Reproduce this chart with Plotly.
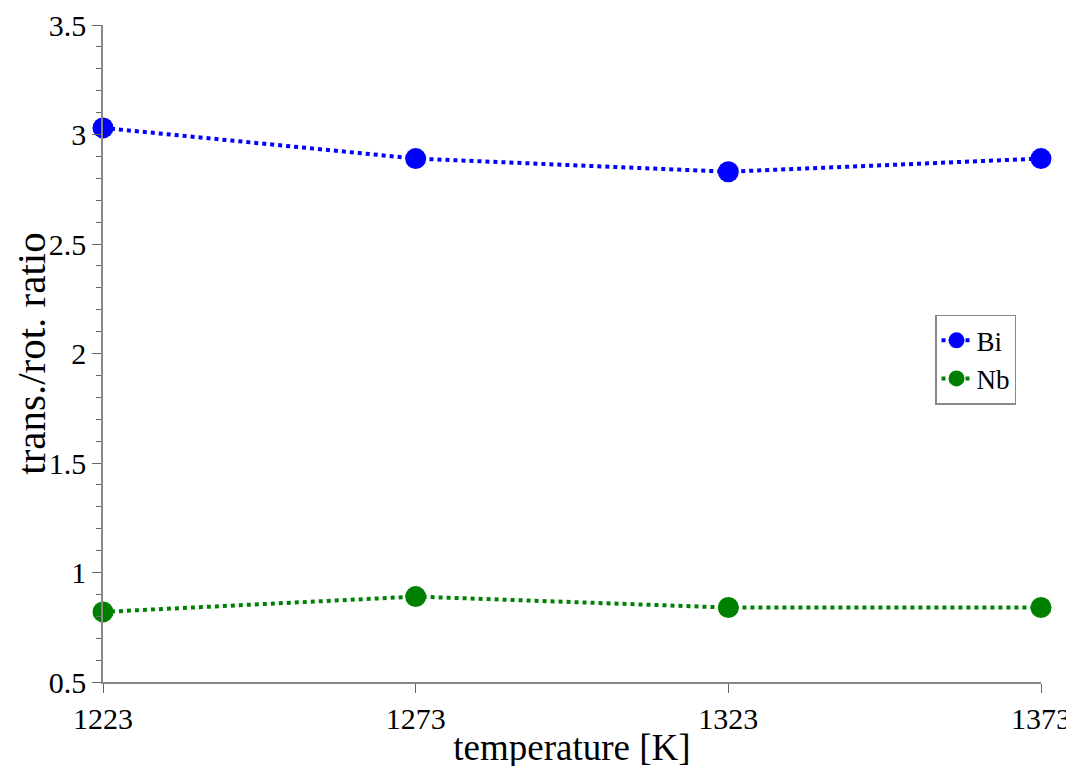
import plotly.graph_objects as go

temps = [1223, 1273, 1323, 1373]
bi_vals = [3.03, 2.89, 2.83, 2.89]
nb_vals = [0.82, 0.89, 0.84, 0.84]
x_ticks = [1223, 1273, 1323, 1373]
y_ticks = [0.5, 1, 1.5, 2, 2.5, 3, 3.5]

font = "Liberation Serif, Times New Roman, serif"

fig = go.Figure()
fig.add_trace(go.Scatter(x=temps, y=bi_vals, name="Bi", mode="lines+markers",
                         line=dict(color="#0000ff", width=4, dash="dot"),
                         marker=dict(size=21, color="#0000ff"), cliponaxis=False))
fig.add_trace(go.Scatter(x=temps, y=nb_vals, name="Nb", mode="lines+markers",
                         line=dict(color="#008000", width=4, dash="dot"),
                         marker=dict(size=21, color="#008000"), cliponaxis=False))

axis_common = dict(showgrid=False, zeroline=False, showline=True, linecolor="#888888",
                   linewidth=1.5, ticks="outside", tickcolor="#666666", ticklen=9,
                   automargin=False,
                   tickfont=dict(family=font, size=30, color="black"))

# page body has an 8px default margin, so margins are shifted to compensate
fig.update_layout(
    width=1074, height=766,
    plot_bgcolor="white", paper_bgcolor="white",
    margin=dict(l=95, r=41, t=17, b=92),
    font=dict(family=font, color="black"),
    xaxis=dict(range=[1223, 1373], tickvals=x_ticks, ticktext=[str(v) for v in x_ticks],
               title=dict(text="temperature [K]", font=dict(family=font, size=37), standoff=0),
               **axis_common),
    yaxis=dict(range=[0.5, 3.5], tickvals=y_ticks, ticktext=[f"{v:g}" for v in y_ticks],
               title=dict(text="trans./rot. ratio", font=dict(family=font, size=41), standoff=9),
               minor=dict(dtick=0.1, ticks="outside", ticklen=5, tickcolor="#666666"),
               **axis_common),
    legend=dict(x=0.887, y=0.559, xanchor="left", yanchor="top",
                bordercolor="#888888", borderwidth=1.5, bgcolor="white",
                font=dict(family=font, size=27), itemwidth=30, tracegroupgap=0),
    showlegend=True,
)

fig.write_html("out.html")
